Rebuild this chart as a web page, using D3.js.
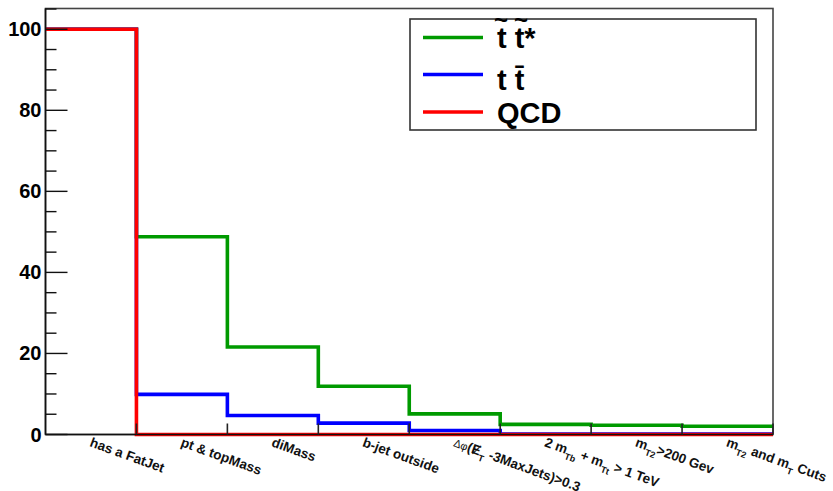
<!DOCTYPE html>
<html>
<head>
<meta charset="utf-8">
<script src="https://cdn.jsdelivr.net/npm/d3@7"></script>
<style>
  body { margin: 0; background: #fff; }
  svg { display: block; font-family: "Liberation Sans", Arial, sans-serif; }
</style>
</head>
<body>
<svg id="chart"></svg>
<script>
"use strict";

// ---- data (cut-flow, % of events surviving each cut) ----
// _{..} = subscript, #{..} = thin/small text (ROOT latex style)
const categories = [
  "has a FatJet",
  "pt & topMass",
  "diMass",
  "b-jet outside",
  "#{Δφ}(Ɇ_{T} -3MaxJets)>0.3",
  "2 m_{Tb} + m_{Tt} > 1 TeV",
  "m_{T2}>200 Gev",
  "m_{T2} and  m_{T} Cuts"
];
const stopValues  = [100, 48.8, 21.6, 11.9, 5.1, 2.5, 2.3, 2.05];
const ttbarValues = [100, 9.9, 4.7, 2.8, 1.0, 0.1, 0.1, 0.1];
const qcdValues   = [100, 0, 0, 0, 0, 0, 0, 0];
const yMajorTicks = [0, 20, 40, 60, 80, 100];

const series = [
  { name: "stop",  values: stopValues,  color: "#009a00" },
  { name: "ttbar", values: ttbarValues, color: "#0000ff" },
  { name: "qcd",   values: qcdValues,   color: "#ff0000" }
];

// ---- layout ----
const W = 833, H = 491;
const frame = { left: 45.5, right: 773, top: 8.5, bottom: 434.5 };

const svg = d3.select("#chart").attr("width", W).attr("height", H);

const x = d3.scaleLinear().domain([0, categories.length]).range([frame.left, frame.right]);
const y = d3.scaleLinear().domain([0, 105]).range([frame.bottom, frame.top + 0.5]);

// frame (top/right grey)
svg.append("rect")
  .attr("x", frame.left).attr("y", frame.top)
  .attr("width", frame.right - frame.left).attr("height", frame.bottom - frame.top)
  .attr("fill", "none").attr("stroke", "#444").attr("stroke-width", 1.6);

// ---- histograms ----
const line = d3.line()
  .x(d => x(d[0]))
  .y(d => y(d[1]))
  .curve(d3.curveStepAfter);

series.forEach(s => {
  const pts = s.values.map((v, i) => [i, v]);
  pts.push([s.values.length, s.values[s.values.length - 1]]);
  svg.append("path")
    .attr("d", line(pts))
    .attr("fill", "none")
    .attr("stroke", s.color)
    .attr("stroke-width", 3.6);
});

// ---- y axis ----
const yMinor = d3.range(0, 105.1, 5);
const yAxis = svg.append("g");
yAxis.append("line")
  .attr("x1", frame.left).attr("x2", frame.left)
  .attr("y1", frame.top).attr("y2", frame.bottom)
  .attr("stroke", "#111").attr("stroke-width", 1.6);
yMinor.forEach(v => {
  const major = yMajorTicks.includes(v);
  yAxis.append("line")
    .attr("x1", frame.left).attr("x2", frame.left + (major ? 22 : 11))
    .attr("y1", y(v)).attr("y2", y(v))
    .attr("stroke", "#111").attr("stroke-width", 1.4);
});
yAxis.selectAll("text.ytick")
  .data(yMajorTicks)
  .enter().append("text")
  .attr("class", "ytick")
  .attr("x", 41.5)
  .attr("y", d => y(d) + 7)
  .attr("text-anchor", "end")
  .style("font-size", "20px")
  .style("font-weight", "700")
  .text(d => d);

// ---- x axis ----
const xAxis = svg.append("g");
xAxis.append("line")
  .attr("x1", frame.left).attr("x2", frame.right)
  .attr("y1", frame.bottom).attr("y2", frame.bottom)
  .attr("stroke", "#111").attr("stroke-width", 1.6);
d3.range(1, categories.length + 1).forEach(i => {
  xAxis.append("line")
    .attr("x1", x(i)).attr("x2", x(i))
    .attr("y1", frame.bottom).attr("y2", frame.bottom - 11)
    .attr("stroke", "#222").attr("stroke-width", 1.6);
});

function addRich(textSel, label) {
  const parts = label.split(/(_\{[^}]*\}|#\{[^}]*\})/).filter(p => p.length);
  let back = 0;
  parts.forEach(p => {
    if (p.startsWith("_{")) {
      textSel.append("tspan")
        .attr("dy", 5).style("font-size", "9px")
        .text(p.slice(2, -1));
      back = -5;
    } else {
      const ts = textSel.append("tspan").attr("dy", back);
      back = 0;
      if (p.startsWith("#{")) {
        ts.style("font-weight", "400").style("font-size", "11px").text(p.slice(2, -1));
      } else {
        ts.text(p);
      }
    }
  });
}

categories.forEach((c, i) => {
  const cx = x(i + 0.5);
  const t = svg.append("text")
    .attr("transform", `translate(${cx - 2},446) rotate(20)`)
    .style("font-size", "13.5px")
    .style("font-weight", "700")
    .attr("fill", "#111");
  addRich(t, c);
});

// ---- legend ----
const lg = { x: 410, y: 19, w: 346, h: 111 };
svg.append("rect")
  .attr("x", lg.x).attr("y", lg.y).attr("width", lg.w).attr("height", lg.h)
  .attr("fill", "#fff").attr("stroke", "#333").attr("stroke-width", 1.6);

const legendItems = [
  { label: "t t*",      color: "#009a00", ly: 37.5, ty: 48, tildes: [501, 521] },
  { label: "t t\u0304", color: "#0000ff", ly: 74.5, ty: 90, tildes: [] },
  { label: "QCD",       color: "#ff0000", ly: 112,  ty: 123, tildes: [] }
];
legendItems.forEach(d => {
  svg.append("line")
    .attr("x1", lg.x + 13).attr("x2", lg.x + 73)
    .attr("y1", d.ly).attr("y2", d.ly)
    .attr("stroke", d.color).attr("stroke-width", 3.6);
  svg.append("text")
    .attr("x", 497).attr("y", d.ty)
    .style("font-size", "29px").style("font-weight", "700")
    .text(d.label);
  d.tildes.forEach(tx => {
    svg.append("text")
      .attr("x", tx).attr("y", 28)
      .attr("text-anchor", "middle")
      .style("font-size", "24px").style("font-weight", "700")
      .text("~");
  });
});
</script>
</body>
</html>
